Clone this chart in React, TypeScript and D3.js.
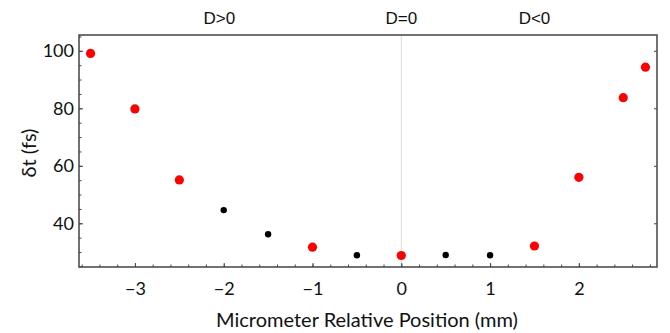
import { useEffect, useRef } from "react";
import { axisBottom, axisLeft, axisRight, range, scaleLinear, select } from "d3";

const redX = [-3.5, -3, -2.5, -1, 0, 1.5, 2, 2.5, 2.75];
const redY = [99.1, 79.8, 55.1, 31.7, 28.8, 32.1, 56.0, 83.7, 94.3];
const blackX = [-2, -1.5, -0.5, 0.5, 1];
const blackY = [44.6, 36.2, 28.9, 29.0, 28.9];
const xTicks = [-3, -2, -1, 0, 1, 2];
const yTicks = [40, 60, 80, 100];
const regionLabels = ["D>0", "D=0", "D<0"];
const regionPos = [-2.05, 0, 1.5];

const W = 670;
const H = 333;
const margin = { top: 35, right: 13, bottom: 66, left: 79 };
const tickFont = "Lato, 'Open Sans', sans-serif";

function Axes({ x, y, height }: { x: any; y: any; height: number }) {
    const bottomRef = useRef<SVGGElement>(null);
    const bottomMinorRef = useRef<SVGGElement>(null);
    const leftRef = useRef<SVGGElement>(null);
    const leftMinorRef = useRef<SVGGElement>(null);
    const rightRef = useRef<SVGGElement>(null);
    const width = x.range()[1];

    useEffect(() => {
        const style = (g: any) => {
            g.select(".domain").remove();
            g.selectAll("line").attr("stroke", "#444").attr("stroke-width", 1);
            g.selectAll("text")
                .attr("font-family", tickFont)
                .attr("font-size", 18)
                .attr("fill", "#111");
        };
        select(bottomRef.current!)
            .call(axisBottom(x).tickValues(xTicks).tickSize(-4).tickPadding(15)
                .tickFormat((d: any) => (d < 0 ? "\u2212" + Math.abs(d) : String(d))))
            .call(style);
        select(bottomMinorRef.current!)
            .call(axisBottom(x).tickValues(range(-3.6, 2.9, 0.2).map((v) => Math.round(v * 10) / 10))
                .tickSize(-2.5).tickFormat(() => ""))
            .call(style);
        select(leftRef.current!)
            .call(axisLeft(y).tickValues(yTicks).tickSize(-4).tickPadding(5))
            .call(style);
        select(leftMinorRef.current!)
            .call(axisLeft(y).tickValues(range(25, 106, 5)).tickSize(-2.5).tickFormat(() => ""))
            .call(style);
        select(rightRef.current!)
            .call(axisRight(y).tickValues(yTicks).tickSize(-3).tickFormat(() => ""))
            .call(style);
    }, [x, y]);

    return (
        <>
            <g ref={bottomMinorRef} transform={`translate(0,${height})`} />
            <g ref={bottomRef} transform={`translate(0,${height})`} />
            <g ref={leftMinorRef} />
            <g ref={leftRef} />
            <g ref={rightRef} transform={`translate(${width},0)`} />
        </>
    );
}

export default function App() {
    const width = W - margin.left - margin.right;
    const height = H - margin.top - margin.bottom;
    const x = scaleLinear().domain([-3.63, 2.88]).range([0, width]);
    const y = scaleLinear().domain([24.8, 105.5]).range([height, 0]);

    return (
        <svg width={W} height={H} style={{ position: "absolute", left: 0, top: 0 }}>
            <rect width={W} height={H} fill="#fff" />
            <g transform={`translate(${margin.left},${margin.top})`}>
                <line x1={x(0)} x2={x(0)} y1={0} y2={height} stroke="#ddd" strokeWidth={1} />
                <Axes x={x} y={y} height={height} />
                <rect x={0} y={0} width={width} height={height} fill="none" stroke="#444" strokeWidth={1.5} />
                {blackX.map((v, i) => (
                    <circle key={`b${i}`} cx={x(v)} cy={y(blackY[i])} r={3.2} fill="#000" />
                ))}
                {redX.map((v, i) => (
                    <circle key={`r${i}`} cx={x(v)} cy={y(redY[i])} r={4.6} fill="#ff0000" />
                ))}
                {regionLabels.map((t, i) => (
                    <text key={t} x={x(regionPos[i])} y={-11} textAnchor="middle"
                        fontFamily="'Liberation Sans', Arial, sans-serif" fontSize={17} fill="#111">
                        {t}
                    </text>
                ))}
            </g>
            <text x={367} y={327} textAnchor="middle" fontFamily={tickFont} fontSize={20} fill="#111">
                Micrometer Relative Position (mm)
            </text>
            <text transform="translate(36,153) rotate(-90)" textAnchor="middle" fontFamily={tickFont}
                fontSize={20} fill="#111">
                δt (fs)
            </text>
        </svg>
    );
}
